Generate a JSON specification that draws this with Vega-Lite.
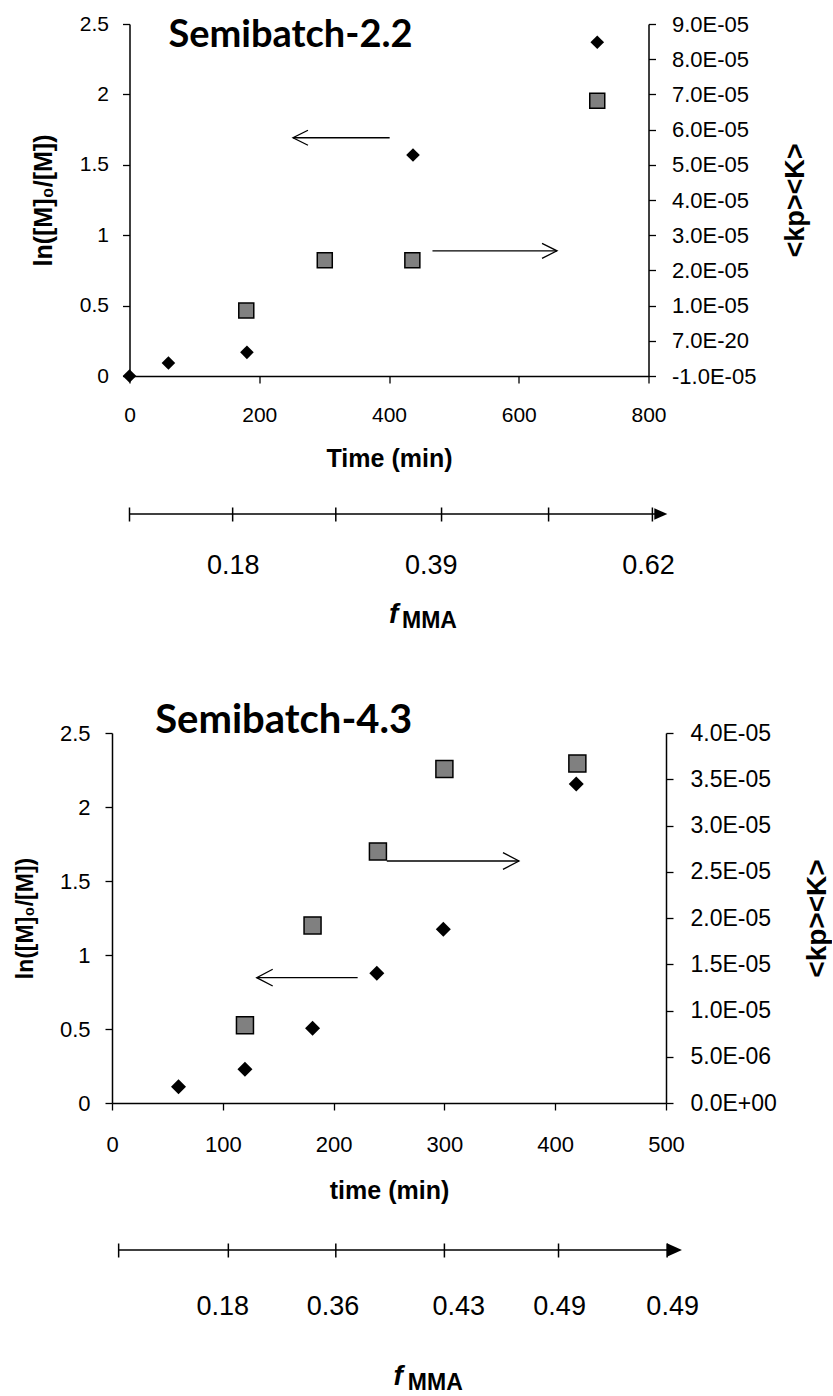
{
  "$schema": "https://vega.github.io/schema/vega-lite/v6.json",
  "padding": {"left": 14, "top": 13, "right": 0, "bottom": 0},
  "background": "white",
  "bounds": "flush",
  "center": true,
  "spacing": 0,
  "config": {
    "font": "Liberation Sans",
    "view": {"stroke": null},
    "axis": {
      "grid": false,
      "domainColor": "black",
      "domainWidth": 1.5,
      "tickColor": "black",
      "tickWidth": 1.3,
      "labelColor": "black",
      "titleColor": "black",
      "labelFont": "Liberation Sans",
      "titleFont": "Liberation Sans",
      "titleFontWeight": "bold",
      "labelOverlap": false,
      "labelFlush": false
    }
  },
  "datasets": {
    "top_ln": [
      {"time": 0, "ln": 0.0},
      {"time": 60, "ln": 0.092},
      {"time": 181, "ln": 0.168},
      {"time": 437, "ln": 1.57},
      {"time": 721, "ln": 2.37}
    ],
    "top_kp": [
      {"time": 180, "kp": 0.0000086},
      {"time": 301, "kp": 0.0000229},
      {"time": 436, "kp": 0.0000229},
      {"time": 721, "kp": 0.0000682}
    ],
    "top_arrows": [
      {"time": 252, "time2": 401, "ln": 1.692},
      {"time": 659, "time2": 467, "ln": 0.889}
    ],
    "top_fmma_ticks": [
      {"time": 0}, {"time": 159}, {"time": 318}, {"time": 481}, {"time": 646}, {"time": 806}
    ],
    "top_fmma_labels": [
      {"time": 160, "fmma": "0.18"},
      {"time": 465, "fmma": "0.39"},
      {"time": 800, "fmma": "0.62"}
    ],
    "bot_ln": [
      {"time": 60, "ln": 0.11},
      {"time": 120, "ln": 0.228},
      {"time": 181, "ln": 0.505},
      {"time": 239, "ln": 0.876},
      {"time": 299, "ln": 1.174},
      {"time": 419, "ln": 2.155}
    ],
    "bot_kp": [
      {"time": 120, "kp": 0.0000084},
      {"time": 181, "kp": 0.0000192},
      {"time": 240, "kp": 0.0000272},
      {"time": 300, "kp": 0.0000361},
      {"time": 420, "kp": 0.0000367}
    ],
    "bot_arrows": [
      {"time": 130.6, "time2": 221.7, "ln": 0.847},
      {"time": 367.3, "time2": 248, "ln": 1.635}
    ],
    "bot_fmma_ticks": [
      {"time": 6}, {"time": 105}, {"time": 202}, {"time": 300}, {"time": 403}, {"time": 501}
    ],
    "bot_fmma_labels": [
      {"time": 100, "fmma": "0.18"},
      {"time": 199.5, "fmma": "0.36"},
      {"time": 313, "fmma": "0.43"},
      {"time": 404, "fmma": "0.49"},
      {"time": 506, "fmma": "0.49"}
    ]
  },
  "vconcat": [
    {
      "width": 519,
      "height": 352,
      "layer": [
        {
          "data": {"name": "top_ln"},
          "mark": {"type": "point", "shape": "diamond", "filled": true, "color": "black", "size": 185, "opacity": 1},
          "encoding": {
            "x": {
              "field": "time", "type": "quantitative",
              "scale": {"domain": [0, 800], "nice": false, "zero": false},
              "axis": {"title": "Time (min)", "values": [0, 200, 400, 600, 800], "tickSize": 7, "labelFontSize": 21, "titleFontSize": 25, "labelPadding": 21, "titlePadding": 21}
            },
            "y": {
              "field": "ln", "type": "quantitative",
              "scale": {"domain": [0, 2.5], "nice": false, "zero": false},
              "axis": {"title": "ln([M]₀/[M])", "values": [0, 0.5, 1, 1.5, 2, 2.5], "format": "~g", "tickSize": 7, "labelFontSize": 21, "titleFontSize": 25, "labelPadding": 14, "titlePadding": 23}
            }
          }
        },
        {
          "data": {"name": "top_kp"},
          "mark": {"type": "point", "shape": "square", "filled": true, "fill": "#808080", "stroke": "black", "strokeWidth": 1.5, "size": 225, "opacity": 1},
          "encoding": {
            "x": {"field": "time", "type": "quantitative", "scale": {"domain": [0, 800], "nice": false, "zero": false}, "axis": null},
            "y": {
              "field": "kp", "type": "quantitative",
              "scale": {"domain": [-0.00001, 0.00009], "nice": false, "zero": false},
              "axis": {
                "orient": "right", "title": "<kp><K>",
                "values": [-0.00001, 0, 0.00001, 0.00002, 0.00003, 0.00004, 0.00005, 0.00006, 0.00007, 0.00008, 0.00009],
                "labelExpr": "abs(datum.value) < 1e-12 ? '7.0E-20' : (datum.value < 0 ? '-' : '') + format(abs(datum.value) * 100000, '.1f') + 'E-05'",
                "tickSize": 7, "labelFontSize": 22, "titleFontSize": 27, "labelPadding": 16, "titlePadding": 27, "titleAngle": -90, "titleBaseline": "top"
              }
            }
          }
        },
        {
          "data": {"name": "top_arrows"},
          "mark": {"type": "rule", "color": "black", "strokeWidth": 1.3},
          "encoding": {
            "x": {"field": "time", "type": "quantitative", "scale": {"domain": [0, 800], "nice": false, "zero": false}, "axis": null},
            "x2": {"field": "time2"},
            "y": {"field": "ln", "type": "quantitative", "scale": {"domain": [0, 2.5], "nice": false, "zero": false}, "axis": null}
          }
        },
        {
          "data": {"name": "top_arrows"},
          "mark": {"type": "point", "shape": "M-2,-1L0,0L-2,1", "filled": false, "color": "black", "strokeWidth": 1.3, "size": 225, "opacity": 1},
          "encoding": {
            "x": {"field": "time", "type": "quantitative", "scale": {"domain": [0, 800], "nice": false, "zero": false}, "axis": null},
            "y": {"field": "ln", "type": "quantitative", "scale": {"domain": [0, 2.5], "nice": false, "zero": false}, "axis": null},
            "angle": {"condition": {"test": "datum.time2 > datum.time", "value": 180}, "value": 0}
          }
        },
        {
          "data": {"values": [{}]},
          "mark": {"type": "text", "font": "Lato", "fontWeight": "bold", "fontSize": 38, "align": "left", "baseline": "alphabetic", "color": "black"},
          "encoding": {
            "x": {"datum": 60, "type": "quantitative", "scale": {"domain": [0, 800], "nice": false, "zero": false}, "axis": null},
            "y": {"datum": 2.337, "type": "quantitative", "scale": {"domain": [0, 2.5], "nice": false, "zero": false}, "axis": null},
            "text": {"value": "Semibatch-2.2"}
          }
        }
      ],
      "resolve": {"scale": {"y": "independent"}, "axis": {"x": "independent"}}
    },
    {
      "width": 519,
      "height": 357,
      "layer": [
        {
          "data": {"values": [{}]},
          "mark": {"type": "rule", "color": "black", "strokeWidth": 1.5, "yOffset": -40.5},
          "encoding": {
            "x": {"datum": 0, "type": "quantitative", "scale": {"domain": [0, 800], "nice": false, "zero": false}, "axis": null},
            "x2": {"datum": 815}
          }
        },
        {
          "data": {"name": "top_fmma_ticks"},
          "mark": {"type": "tick", "orient": "vertical", "color": "black", "size": 14, "thickness": 1.5, "yOffset": -40, "opacity": 1},
          "encoding": {
            "x": {"field": "time", "type": "quantitative", "scale": {"domain": [0, 800], "nice": false, "zero": false}, "axis": null}
          }
        },
        {
          "data": {"values": [{}]},
          "mark": {"type": "point", "shape": "M0,0L-2,-0.9L-2,0.9Z", "filled": true, "color": "black", "size": 169, "opacity": 1, "yOffset": -40.5},
          "encoding": {
            "x": {"datum": 829, "type": "quantitative", "scale": {"domain": [0, 800], "nice": false, "zero": false}, "axis": null}
          }
        },
        {
          "data": {"name": "top_fmma_labels"},
          "mark": {"type": "text", "fontSize": 27, "baseline": "middle", "align": "center", "dy": 11.5, "color": "black"},
          "encoding": {
            "x": {"field": "time", "type": "quantitative", "scale": {"domain": [0, 800], "nice": false, "zero": false}, "axis": null},
            "text": {"field": "fmma"}
          }
        },
        {
          "data": {"values": [{}]},
          "mark": {"type": "text", "fontSize": 28, "fontWeight": "bold", "fontStyle": "italic", "align": "left", "baseline": "alphabetic", "dy": 68.5, "color": "black"},
          "encoding": {
            "x": {"datum": 400, "type": "quantitative", "scale": {"domain": [0, 800], "nice": false, "zero": false}, "axis": null},
            "text": {"value": "f"}
          }
        },
        {
          "data": {"values": [{}]},
          "mark": {"type": "text", "fontSize": 23, "fontWeight": "bold", "align": "left", "baseline": "alphabetic", "dy": 73.5, "color": "black"},
          "encoding": {
            "x": {"datum": 420, "type": "quantitative", "scale": {"domain": [0, 800], "nice": false, "zero": false}, "axis": null},
            "text": {"value": "MMA"}
          }
        }
      ]
    },
    {
      "width": 554,
      "height": 370,
      "layer": [
        {
          "data": {"name": "bot_ln"},
          "mark": {"type": "point", "shape": "diamond", "filled": true, "color": "black", "size": 225, "opacity": 1},
          "encoding": {
            "x": {
              "field": "time", "type": "quantitative",
              "scale": {"domain": [0, 500], "nice": false, "zero": false},
              "axis": {"title": "time (min)", "values": [0, 100, 200, 300, 400, 500], "tickSize": 7, "labelFontSize": 22, "titleFontSize": 25, "labelPadding": 24, "titlePadding": 23}
            },
            "y": {
              "field": "ln", "type": "quantitative",
              "scale": {"domain": [0, 2.5], "nice": false, "zero": false},
              "axis": {"title": "ln([M]₀/[M])", "values": [0, 0.5, 1, 1.5, 2, 2.5], "format": "~g", "tickSize": 7, "labelFontSize": 22, "titleFontSize": 23, "labelPadding": 15, "titlePadding": 22}
            }
          }
        },
        {
          "data": {"name": "bot_kp"},
          "mark": {"type": "point", "shape": "square", "filled": true, "fill": "#808080", "stroke": "black", "strokeWidth": 1.5, "size": 289, "opacity": 1},
          "encoding": {
            "x": {"field": "time", "type": "quantitative", "scale": {"domain": [0, 500], "nice": false, "zero": false}, "axis": null},
            "y": {
              "field": "kp", "type": "quantitative",
              "scale": {"domain": [0, 0.00004], "nice": false, "zero": false},
              "axis": {
                "orient": "right", "title": "<kp><K>",
                "values": [0, 0.000005, 0.00001, 0.000015, 0.00002, 0.000025, 0.00003, 0.000035, 0.00004],
                "labelExpr": "datum.value < 1e-12 ? '0.0E+00' : datum.value < 0.000009 ? format(datum.value * 1000000, '.1f') + 'E-06' : format(datum.value * 100000, '.1f') + 'E-05'",
                "tickSize": 7, "labelFontSize": 23, "titleFontSize": 28, "labelPadding": 17, "titlePadding": 27, "titleAngle": -90, "titleBaseline": "top"
              }
            }
          }
        },
        {
          "data": {"name": "bot_arrows"},
          "mark": {"type": "rule", "color": "black", "strokeWidth": 1.3},
          "encoding": {
            "x": {"field": "time", "type": "quantitative", "scale": {"domain": [0, 500], "nice": false, "zero": false}, "axis": null},
            "x2": {"field": "time2"},
            "y": {"field": "ln", "type": "quantitative", "scale": {"domain": [0, 2.5], "nice": false, "zero": false}, "axis": null}
          }
        },
        {
          "data": {"name": "bot_arrows"},
          "mark": {"type": "point", "shape": "M-2,-1.05L0,0L-2,1.05", "filled": false, "color": "black", "strokeWidth": 1.3, "size": 256, "opacity": 1},
          "encoding": {
            "x": {"field": "time", "type": "quantitative", "scale": {"domain": [0, 500], "nice": false, "zero": false}, "axis": null},
            "y": {"field": "ln", "type": "quantitative", "scale": {"domain": [0, 2.5], "nice": false, "zero": false}, "axis": null},
            "angle": {"condition": {"test": "datum.time2 > datum.time", "value": 180}, "value": 0}
          }
        },
        {
          "data": {"values": [{}]},
          "mark": {"type": "text", "font": "Lato", "fontWeight": "bold", "fontSize": 40, "align": "left", "baseline": "alphabetic", "color": "black"},
          "encoding": {
            "x": {"datum": 39, "type": "quantitative", "scale": {"domain": [0, 500], "nice": false, "zero": false}, "axis": null},
            "y": {"datum": 2.5, "type": "quantitative", "scale": {"domain": [0, 2.5], "nice": false, "zero": false}, "axis": null},
            "text": {"value": "Semibatch-4.3"}
          }
        }
      ],
      "resolve": {"scale": {"y": "independent"}, "axis": {"x": "independent"}}
    },
    {
      "width": 554,
      "height": 293,
      "layer": [
        {
          "data": {"values": [{}]},
          "mark": {"type": "rule", "color": "black", "strokeWidth": 1.5, "yOffset": 0.5},
          "encoding": {
            "x": {"datum": 6, "type": "quantitative", "scale": {"domain": [0, 500], "nice": false, "zero": false}, "axis": null},
            "x2": {"datum": 505}
          }
        },
        {
          "data": {"name": "bot_fmma_ticks"},
          "mark": {"type": "tick", "orient": "vertical", "color": "black", "size": 14, "thickness": 1.5, "yOffset": 1, "opacity": 1},
          "encoding": {
            "x": {"field": "time", "type": "quantitative", "scale": {"domain": [0, 500], "nice": false, "zero": false}, "axis": null}
          }
        },
        {
          "data": {"values": [{}]},
          "mark": {"type": "point", "shape": "M0,0L-2,-0.9L-2,0.9Z", "filled": true, "color": "black", "size": 225, "opacity": 1, "yOffset": 0.5},
          "encoding": {
            "x": {"datum": 514.4, "type": "quantitative", "scale": {"domain": [0, 500], "nice": false, "zero": false}, "axis": null}
          }
        },
        {
          "data": {"name": "bot_fmma_labels"},
          "mark": {"type": "text", "fontSize": 27, "baseline": "middle", "align": "center", "dy": 57.5, "color": "black"},
          "encoding": {
            "x": {"field": "time", "type": "quantitative", "scale": {"domain": [0, 500], "nice": false, "zero": false}, "axis": null},
            "text": {"field": "fmma"}
          }
        },
        {
          "data": {"values": [{}]},
          "mark": {"type": "text", "fontSize": 28, "fontWeight": "bold", "fontStyle": "italic", "align": "left", "baseline": "alphabetic", "dy": 135.5, "color": "black"},
          "encoding": {
            "x": {"datum": 254, "type": "quantitative", "scale": {"domain": [0, 500], "nice": false, "zero": false}, "axis": null},
            "text": {"value": "f"}
          }
        },
        {
          "data": {"values": [{}]},
          "mark": {"type": "text", "fontSize": 23, "fontWeight": "bold", "align": "left", "baseline": "alphabetic", "dy": 140.5, "color": "black"},
          "encoding": {
            "x": {"datum": 267, "type": "quantitative", "scale": {"domain": [0, 500], "nice": false, "zero": false}, "axis": null},
            "text": {"value": "MMA"}
          }
        }
      ]
    }
  ]
}
